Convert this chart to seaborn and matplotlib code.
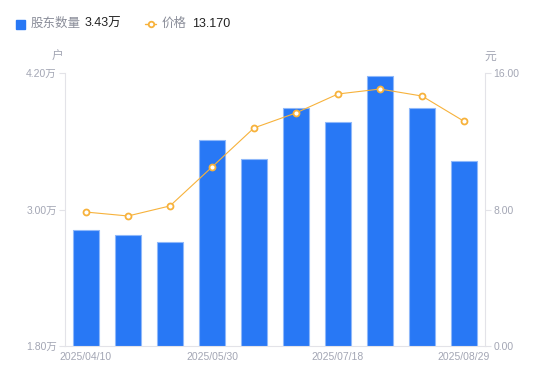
import numpy as np
import pandas as pd
import seaborn as sns
import matplotlib.pyplot as plt

# data
dates = ['2025/04/10', '2025/04/18', '2025/04/30', '2025/05/30', '2025/06/10',
         '2025/06/30', '2025/07/18', '2025/07/31', '2025/08/15', '2025/08/29']
holders = [2.82, 2.78, 2.71, 3.61, 3.44, 3.89, 3.77, 4.17, 3.89, 3.43]  # 万户
price = [7.85, 7.62, 8.21, 10.49, 12.78, 13.66, 14.77, 15.06, 14.65, 13.17]

sns.set_style('white')
plt.rcParams['font.family'] = ['Liberation Sans', 'Noto Sans CJK SC', 'DejaVu Sans']

blue = '#2878f5'
orange = '#f7b23b'
grey = '#a3a6b4'
axc = '#e3e3e8'

df = pd.DataFrame({'date': dates, 'holders': holders, 'price': price})
df['idx'] = np.arange(len(df))

fig = plt.figure(figsize=(5.5, 3.81), dpi=100)
ax = fig.add_axes([65 / 550, 1 - 346 / 381, 420 / 550, 273 / 381])

sns.barplot(data=df, x='date', y='holders', color=blue, width=0.6,
            saturation=1, edgecolor='#8fb8fa', linewidth=0.8, ax=ax)
ax.set_ylim(1.8, 4.2)
ax.set_xlim(-0.5, len(df) - 0.5)
ax.set_yticks([1.8, 3.0, 4.2])
ax.set_yticklabels([f'{v:.2f}万' for v in [1.8, 3.0, 4.2]])
ax.set_xticks([0, 3, 6, 9])
ax.set_xticklabels([dates[i] for i in [0, 3, 6, 9]])
ax.set_xlabel('')
ax.set_ylabel('')

ax2 = ax.twinx()
sns.lineplot(data=df, x='idx', y='price', color=orange, linewidth=0.8,
             marker='o', markersize=4.3, markerfacecolor='white',
             markeredgecolor=orange, markeredgewidth=1.3, ax=ax2)
ax2.set_ylim(0, 16)
ax2.set_yticks([0, 8, 16])
ax2.set_yticklabels([f'{v:.2f}' for v in [0, 8, 16]])
ax2.set_ylabel('')
ax2.set_xlim(-0.5, len(df) - 0.5)

for a in (ax, ax2):
    for s in a.spines.values():
        s.set_visible(False)
    a.tick_params(colors=grey, labelsize=7.5, length=4, width=0.8, color=axc, pad=2)
ax.spines['left'].set_visible(True)
ax.spines['left'].set_color(axc)
ax.spines['bottom'].set_visible(True)
ax.spines['bottom'].set_color(axc)
ax2.spines['right'].set_visible(True)
ax2.spines['right'].set_color(axc)
ax.tick_params(axis='x', length=0, pad=4)

# axis unit labels
fig.text(58 / 550, 1 - 57 / 381, '户', color=grey, fontsize=8.5, ha='center', va='center')
fig.text(490 / 550, 1 - 57 / 381, '元', color=grey, fontsize=8.5, ha='center', va='center')

# legend row
fig.patches.append(plt.Rectangle((16 / 550, 1 - 28.5 / 381), 9 / 550, 9 / 381,
                                 transform=fig.transFigure, color=blue))
fig.text(31 / 550, 1 - 24 / 381, '股东数量', color='#8a8d99', fontsize=9, va='center')
fig.text(85 / 550, 1 - 24 / 381, f'{holders[-1]:.2f}万', color='#222222', fontsize=9, va='center')
fig.add_artist(plt.Line2D([145 / 550, 150.5 / 550, 156 / 550], [1 - 24 / 381] * 3,
                          color=orange, linewidth=1, marker='o', markersize=4,
                          markerfacecolor='white', markeredgewidth=1.3,
                          markevery=[1], transform=fig.transFigure))
fig.text(162 / 550, 1 - 24 / 381, '价格', color='#8a8d99', fontsize=9, va='center')
fig.text(192 / 550, 1 - 24 / 381, f'{price[-1]:.3f}', color='#222222', fontsize=9, va='center')

fig.savefig('out.png', dpi=100)
